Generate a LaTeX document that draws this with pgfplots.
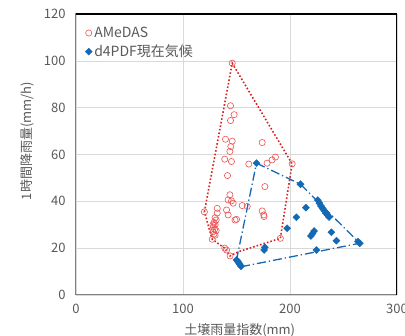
\documentclass[border=0pt]{standalone}
\usepackage{pgfplots}
\pgfplotsset{compat=1.18}
\usepackage{fontspec}
\setmainfont{Noto Sans CJK JP}
\definecolor{redm}{RGB}{238,80,80}
\definecolor{redh}{RGB}{215,35,35}
\definecolor{bluem}{RGB}{20,105,180}
\definecolor{tickgray}{RGB}{89,89,89}
\definecolor{gridgray}{RGB}{217,217,217}
\definecolor{axgray}{RGB}{128,128,128}
\begin{document}
\begin{tikzpicture}
\begin{axis}[
  at={(0pt,0pt)}, anchor=south west,
  scale only axis, width=321pt, height=281pt,
  xmin=0, xmax=300, ymin=0, ymax=120,
  xtick={0,100,200,300}, ytick={0,20,40,60,80,100,120},
  major tick length=0pt,
  grid=major, major grid style={gridgray, line width=0.6pt},
  axis line style={axgray, line width=1pt},
  tick label style={font=\fontsize{13}{15}\selectfont, text=tickgray},
  xticklabel style={yshift=-6pt},
  yticklabel style={xshift=-7pt},
  /pgf/number format/assume math mode=true,
  xlabel={土壌雨量指数(mm)}, ylabel={1時間降雨量(mm/h)},
  label style={font=\fontsize{13}{15}\selectfont, text=tickgray},
  xlabel style={at={(axis description cs:0.51,-0.124)}, anchor=center},
  ylabel style={at={(axis description cs:-0.153,0.548)}, anchor=center},
  legend style={at={(0.025,0.965)}, anchor=north west, draw=none, fill=none,
    font=\fontsize{14}{16}\selectfont, text=tickgray, row sep=2pt, inner sep=1pt},
  legend cell align=left,
  legend image code/.code={\draw[#1] (0pt,0pt) plot coordinates {(0.5pt,0pt)};},
]
\addplot[only marks, mark=o, mark size=3.1pt, redm, mark options={line width=0.6pt}] coordinates {
(146,99)(144.4,80.8)(147.8,77)(144.4,74.5)(139.7,66.5)(146,65.7)(174,65.1)(144.7,63.4)(143.8,61.3)(139,58)(145.3,57)(161.5,55.9)(178.6,56.3)(183.3,57.7)(186.4,58.9)(202,56)(141.6,51)(176.5,46.3)(143.8,42.8)(142.2,40.6)(145.3,40.2)(146.9,39.2)(120,35.5)(132,37)(132,35)(140.7,36.3)(142.2,34.2)(150,32.3)(155.3,38.2)(160,37.8)(174,35.9)(175.5,34.2)(175.8,33.5)(130,33)(129,31)(130,30)(128.5,29)(129.5,28)(128,27)(129,26)(130,25.5)(131,32)(127.3,23.8)(191,24.2)(139,20)(140.7,19.2)(144,16.7)(128,30)(131,27.5)(148.6,32)
};
\addlegendentry{AMeDAS}
\addplot[only marks, mark=square*, mark size=2.5pt, bluem, mark options={rotate=45}] coordinates {
(168.7,56.3)(209.8,47.3)(214.8,37.3)(226,40.5)(227.5,39.2)(229,38)(230.5,37)(232,36)(233.5,35)(235,34.2)(236.5,33.3)(206,33.2)(197.3,28.5)(238.7,26.8)(222.5,27.3)(221,26.2)(219.5,25.2)(243.4,23.2)(263.5,22.8)(265.2,22.1)(224.7,19.2)(176.5,20.4)(175.8,19.2)(150,15)(151,14.5)(152,13.8)(153,13.1)(154.2,12.3)
};
\addlegendentry{d4PDF現在気候}
\addplot[redh, line width=1.6pt, dotted, forget plot] coordinates {
(120,35.5)(146,99)(202,56)(191,24.2)(152,18.5)(144,16.7)(139,20)(127.3,23.8)(120,35.5)
};
\addplot[bluem, line width=1.3pt, dash pattern=on 9pt off 3pt on 1.3pt off 3pt, forget plot] coordinates {
(168.7,56.3)(209.8,47.3)(265.2,22.1)(154.7,12.1)(150,15)(168.7,56.3)
};
\draw[black, line width=1.2pt] (rel axis cs:0,1) -- (rel axis cs:1,1) -- (rel axis cs:1,0);
\end{axis}
\pgfresetboundingbox
\path[use as bounding box] (-76pt,-41pt) rectangle (329pt,295pt);
\end{tikzpicture}
\end{document}
